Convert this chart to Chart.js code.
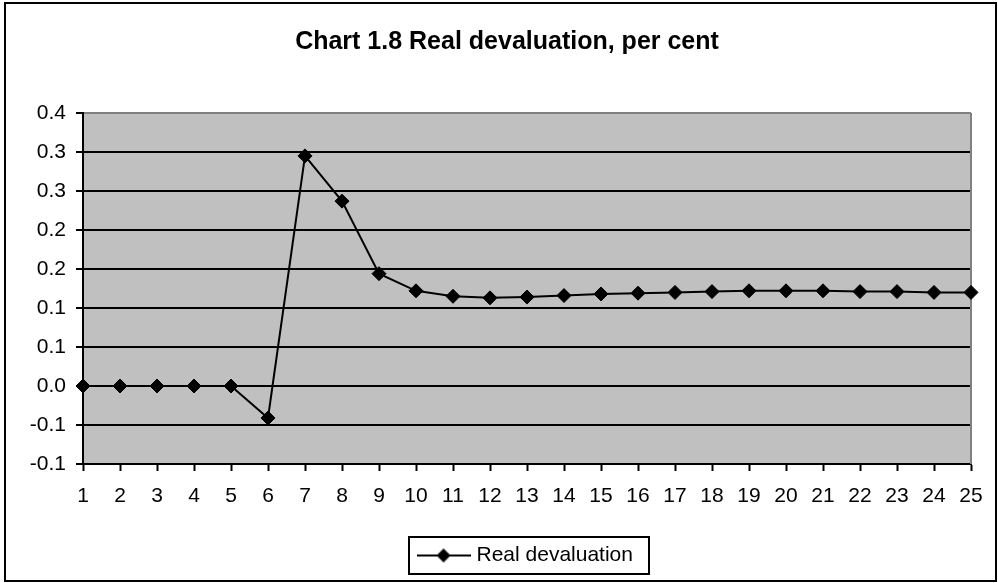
<!DOCTYPE html>
<html>
<head>
<meta charset="utf-8">
<script src="https://cdn.jsdelivr.net/npm/chart.js@4.4.1/dist/chart.umd.min.js"></script>
<style>
  html, body { margin: 0; padding: 0; background: #fff; }
  canvas { display: block; }
</style>
</head>
<body>
<canvas id="chart" width="998" height="583"></canvas>
<script>
// periods on the x axis
const periods = ['1', '2', '3', '4', '5', '6', '7', '8', '9', '10', '11', '12', '13',
  '14', '15', '16', '17', '18', '19', '20', '21', '22', '23', '24', '25'];

// real devaluation
const realDevaluation = [0, 0, 0, 0, 0, -0.041, 0.295, 0.237, 0.144, 0.122, 0.115,
  0.113, 0.114, 0.116, 0.118, 0.119, 0.120, 0.121, 0.122, 0.122, 0.122, 0.121,
  0.121, 0.120, 0.120];

// excel rounds the 0.05 steps to one decimal
const yTickLabels = ['-0.1', '-0.1', '0.0', '0.1', '0.1', '0.2', '0.2', '0.3', '0.3', '0.4'];

Chart.defaults.font.family = '"Liberation Sans", Arial, sans-serif';
Chart.defaults.color = '#000';

// legend sample: line with a diamond on it
const legendMarker = document.createElement('canvas');
legendMarker.width = 54;
legendMarker.height = 18;
(function () {
  const c = legendMarker.getContext('2d');
  c.strokeStyle = '#000';
  c.lineWidth = 2;
  c.beginPath();
  c.moveTo(0, 9);
  c.lineTo(54, 9);
  c.stroke();
  c.fillStyle = '#000';
  c.beginPath();
  c.moveTo(27, 2);
  c.lineTo(34, 9);
  c.lineTo(27, 16);
  c.lineTo(20, 9);
  c.closePath();
  c.fill();
})();

const excelFrame = {
  id: 'excelFrame',
  beforeDraw(chart) {
    const { ctx, chartArea: a } = chart;
    ctx.save();
    ctx.fillStyle = '#fff';
    ctx.fillRect(0, 0, chart.width, chart.height);
    ctx.fillStyle = '#c0c0c0';
    ctx.fillRect(a.left, a.top, a.right - a.left, a.bottom - a.top);
    ctx.restore();
  },
  beforeDatasetsDraw(chart) {
    const { ctx, chartArea: a } = chart;
    ctx.save();
    ctx.strokeStyle = '#808080';
    ctx.lineWidth = 2;
    ctx.beginPath();
    ctx.moveTo(a.right, a.top);
    ctx.lineTo(a.right, a.bottom);
    ctx.stroke();
    ctx.restore();
  },
  afterDraw(chart) {
    const ctx = chart.ctx;
    ctx.save();
    ctx.strokeStyle = '#000';
    ctx.lineWidth = 2;
    // outer chart border
    ctx.strokeRect(5, 3, chart.width - 7, chart.height - 5);
    // box round the legend
    const hb = chart.legend.legendHitBoxes[0];
    if (hb) {
      const cy = hb.top + hb.height / 2;
      ctx.strokeRect(Math.round(hb.left - 12), Math.round(cy - 18.5), Math.round(hb.width + 28), 37);
    }
    ctx.restore();
  }
};

new Chart(document.getElementById('chart'), {
  type: 'line',
  data: {
    labels: periods,
    datasets: [{
      label: 'Real devaluation',
      data: realDevaluation,
      borderColor: '#000',
      borderWidth: 2,
      backgroundColor: '#000',
      pointStyle: 'rectRot',
      pointRadius: 7,
      pointBorderWidth: 1,
      pointBorderColor: '#000',
      pointBackgroundColor: '#000',
      tension: 0,
      clip: false
    }]
  },
  options: {
    responsive: false,
    animation: false,
    layout: { padding: { left: 16, right: 0, top: 0, bottom: 7 } },
    scales: {
      x: {
        offset: false,
        ticks: { padding: 13, font: { size: 21 }, color: '#000', maxRotation: 0, autoSkip: false },
        grid: { drawOnChartArea: false, drawTicks: true, tickLength: 7, tickColor: '#000', tickWidth: 2 },
        border: { color: '#000', width: 2 },
        afterFit(scale) { scale.height = 71; }
      },
      y: {
        min: -0.1,
        max: 0.35,
        ticks: {
          stepSize: 0.05,
          padding: 10,
          font: { size: 21 },
          color: '#000',
          callback: (value, index) => yTickLabels[index]
        },
        grid: {
          color: (c) => (c.tick && c.tick.value > 0.34 ? '#808080' : '#000'),
          lineWidth: 2,
          tickLength: 7,
          tickColor: '#000',
          tickWidth: 2
        },
        border: { color: '#000', width: 2 },
        afterFit(scale) { scale.width = 67; }
      },
      // empty right-hand strip, keeps the plot off the right edge
      yRight: {
        position: 'right',
        grid: { display: false },
        ticks: { display: false },
        border: { display: false },
        afterFit(scale) { scale.width = 27; }
      }
    },
    plugins: {
      title: {
        display: true,
        text: 'Chart 1.8 Real devaluation, per cent',
        font: { size: 25, weight: 'bold' },
        color: '#000',
        padding: { top: 27, bottom: 56 }
      },
      legend: {
        position: 'bottom',
        fullSize: false,
        labels: {
          usePointStyle: true,
          pointStyle: legendMarker,
          pointStyleWidth: 45,
          boxHeight: 16,
          font: { size: 21 },
          color: '#000',
          padding: 10
        }
      },
      tooltip: { enabled: false }
    }
  },
  plugins: [excelFrame]
});
</script>
</body>
</html>
